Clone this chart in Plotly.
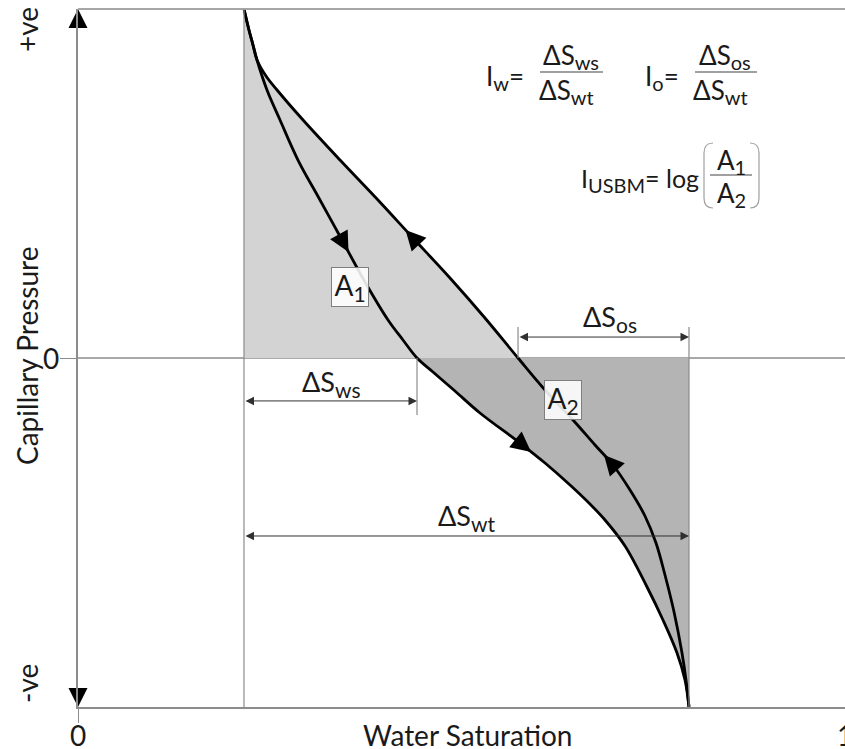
import math
import numpy as np
import plotly.graph_objects as go

# ---------------- data ----------------
# Imbibition curve (water saturation increasing, arrows pointing down)
sw_imb = [0.2164, 0.2229, 0.2282, 0.2334, 0.2464, 0.2634, 0.2868, 0.3155, 0.3442, 0.3742,
          0.4042, 0.4237, 0.4420, 0.4628, 0.4915, 0.5241, 0.5763, 0.6089, 0.6415, 0.6675,
          0.6871, 0.7132, 0.7419, 0.7627, 0.7810, 0.7914, 0.7966]
pc_imb = [1.000, 0.9398, 0.8968, 0.8539, 0.7679, 0.6819, 0.5673, 0.4527, 0.3381, 0.2178,
          0.1089, 0.0516, 0.000, -0.0401, -0.0946, -0.1576, -0.2436, -0.3009, -0.3639, -0.4183,
          -0.4642, -0.5387, -0.6562, -0.7507, -0.8453, -0.9226, -1.000]
# Drainage curve (water saturation decreasing, arrows pointing up)
sw_dra = [0.2164, 0.2229, 0.2282, 0.2334, 0.2451, 0.2595, 0.2934, 0.3416, 0.3911, 0.4355,
          0.4850, 0.5306, 0.5737, 0.6089, 0.6454, 0.6741, 0.6975, 0.7197, 0.7392, 0.7536,
          0.7653, 0.7771, 0.7875, 0.7927, 0.7966]
pc_dra = [1.000, 0.9398, 0.8968, 0.8539, 0.8080, 0.7679, 0.6819, 0.5673, 0.4527, 0.3467,
          0.2292, 0.1146, 0.000, -0.0917, -0.1777, -0.2493, -0.3066, -0.3782, -0.4527, -0.5301,
          -0.6218, -0.7278, -0.8453, -0.9226, -1.000]

SWI = 0.2164         # irreducible water saturation
SW_MAX = 0.7966      # 1 - Sor
SW_IMB0 = 0.4420     # imbibition curve at Pc = 0
SW_DRA0 = 0.5737     # drainage curve at Pc = 0

arrow_pc_imb = [0.304, -0.269]
arrow_pc_dra = [0.367, -0.278]

x_tickvals = [0, 1]
x_ticktext = ["0", "1"]
y_tickvals = [0]
y_ticktext = ["0"]

# ---------------- layout geometry ----------------
W, H = 845, 749
ML, MR, MT, MB = 78, 0, 9, 42
PW = W - ML - MR
PH = H - MT - MB
XR = [0, 1]
YR = [-1, 1]
SX = PW / (XR[1] - XR[0])
SY = PH / (YR[1] - YR[0])

FONT = "Lato"
TXT = "#1a1a1a"
GRAY = "#8c8c8c"
LIGHT = "#d3d3d3"
DARK = "#b4b4b4"


def PX(px):
    return (px - ML) / PW


def PY(py):
    return (H - MB - py) / PH


def sub(main, s, size):
    return f"{main}<sub><span style='font-size:{size}px'>{s}</span></sub>"


def sw_at(sw, pc, p):
    return float(np.interp(p, pc[::-1], sw[::-1]))


def arrow_angle(sw, pc, p, down):
    d = 0.03
    x1 = sw_at(sw, pc, p + d)
    x2 = sw_at(sw, pc, p - d)
    dx = (x2 - x1) * SX
    dy = (2 * d) * SY
    if not down:
        dx, dy = -dx, -dy
    return math.degrees(math.atan2(dx, -dy))


fig = go.Figure()

# light fill (above Pc = 0, left of drainage curve)
lx = [s for s, p in zip(sw_dra, pc_dra) if p >= 0] + [SWI]
ly = [p for p in pc_dra if p >= 0] + [0]
fig.add_trace(go.Scatter(x=lx, y=ly, mode="lines", fill="toself", fillcolor=LIGHT,
                         line=dict(width=0), hoverinfo="skip", showlegend=False))
# dark fill (below Pc = 0, right of imbibition curve)
dx_ = [s for s, p in zip(sw_imb, pc_imb) if p <= 0] + [SW_MAX]
dy_ = [p for p in pc_imb if p <= 0] + [0]
fig.add_trace(go.Scatter(x=dx_, y=dy_, mode="lines", fill="toself", fillcolor=DARK,
                         line=dict(width=0), hoverinfo="skip", showlegend=False))

# curves
for sw, pc in ((sw_imb, pc_imb), (sw_dra, pc_dra)):
    fig.add_trace(go.Scatter(x=sw, y=pc, mode="lines",
                             line=dict(color="black", width=2.8, shape="spline", smoothing=1.0),
                             hoverinfo="skip", showlegend=False))

# direction arrows on curves
ax_, ay_, aang = [], [], []
for p in arrow_pc_imb:
    ax_.append(sw_at(sw_imb, pc_imb, p)); ay_.append(p)
    aang.append(arrow_angle(sw_imb, pc_imb, p, True))
for p in arrow_pc_dra:
    ax_.append(sw_at(sw_dra, pc_dra, p)); ay_.append(p)
    aang.append(arrow_angle(sw_dra, pc_dra, p, False))
fig.add_trace(go.Scatter(x=ax_, y=ay_, mode="markers",
                         marker=dict(symbol="arrow-up", size=20, color="black", angle=aang,
                                     line=dict(width=0)),
                         hoverinfo="skip", showlegend=False, cliponaxis=False))

# y-axis end arrows
fig.add_trace(go.Scatter(x=[XR[0], XR[0]], y=[YR[1], YR[0]], mode="markers",
                         marker=dict(symbol=["arrow-up", "arrow-down"], size=19, color="black",
                                     line=dict(width=0)),
                         hoverinfo="skip", showlegend=False, cliponaxis=False))

shapes = []
# zero line
shapes.append(dict(type="line", xref="x", yref="y", x0=XR[0], x1=XR[1], y0=0, y1=0,
                   line=dict(color=GRAY, width=1.3), layer="below"))
# top border
shapes.append(dict(type="line", xref="paper", yref="paper", x0=0, x1=1, y0=1, y1=1,
                   line=dict(color="#a6a6a6", width=2)))
# vertical reference lines
DIM_OS, DIM_WS, DIM_WT = 0.060, -0.123, -0.510
shapes.append(dict(type="line", xref="x", yref="y", x0=SWI, x1=SWI, y0=YR[0], y1=YR[1],
                   line=dict(color=GRAY, width=1.2)))
shapes.append(dict(type="line", xref="x", yref="y", x0=SW_MAX, x1=SW_MAX, y0=YR[0], y1=0.089,
                   line=dict(color=GRAY, width=1.2)))
shapes.append(dict(type="line", xref="x", yref="y", x0=SW_DRA0, x1=SW_DRA0, y0=0, y1=0.089,
                   line=dict(color=GRAY, width=1.2)))
shapes.append(dict(type="line", xref="x", yref="y", x0=SW_IMB0, x1=SW_IMB0, y0=0, y1=-0.163,
                   line=dict(color=GRAY, width=1.2)))

# formula fraction lines
for x0, x1, yy in ((540, 603, 72), (695, 757, 72), (710, 752, 175)):
    shapes.append(dict(type="line", xref="paper", yref="paper", x0=PX(x0), x1=PX(x1),
                       y0=PY(yy), y1=PY(yy), line=dict(color="#a0a0a0", width=2)))
# parentheses
lp = (f"M {PX(713)},{PY(143)} Q {PX(704)},{PY(143)} {PX(704)},{PY(153)} "
      f"L {PX(704)},{PY(198)} Q {PX(704)},{PY(208)} {PX(713)},{PY(208)}")
rp = (f"M {PX(750)},{PY(143)} Q {PX(759)},{PY(143)} {PX(759)},{PY(153)} "
      f"L {PX(759)},{PY(198)} Q {PX(759)},{PY(208)} {PX(750)},{PY(208)}")
for pth in (lp, rp):
    shapes.append(dict(type="path", xref="paper", yref="paper", path=pth,
                       line=dict(color="#a0a0a0", width=1.2)))

ann = []
# dimension arrows
for x0, x1, yy in ((SW_DRA0, SW_MAX, DIM_OS), (SWI, SW_IMB0, DIM_WS), (SWI, SW_MAX, DIM_WT)):
    ann.append(dict(x=x1, y=yy, ax=x0, ay=yy, xref="x", yref="y", axref="x", ayref="y",
                    text="", showarrow=True, arrowhead=2, arrowside="end+start",
                    arrowsize=1.7, arrowwidth=1, arrowcolor="#303030",
                    standoff=0, startstandoff=0))

LF, LS = 27, 21
ann.append(dict(x=(SW_DRA0 + SW_MAX) / 2 + 0.008, y=0.112, xref="x", yref="y", showarrow=False,
                text=sub("ΔS", "os", LS), font=dict(size=LF, color=TXT, family=FONT)))
ann.append(dict(x=(SWI + SW_IMB0) / 2, y=-0.072, xref="x", yref="y", showarrow=False,
                text=sub("ΔS", "ws", LS), font=dict(size=LF, color=TXT, family=FONT)))
ann.append(dict(x=(SWI + SW_MAX) / 2, y=-0.458, xref="x", yref="y", showarrow=False,
                text=sub("ΔS", "wt", LS), font=dict(size=LF, color=TXT, family=FONT)))

# A1 / A2 boxes
for t, x, y in ((sub("A", "1", 21), 0.3546, 0.2034), (sub("A", "2", 21), 0.6323, -0.1203)):
    ann.append(dict(x=x, y=y, xref="x", yref="y", showarrow=False, text=t,
                    font=dict(size=28, color=TXT, family=FONT),
                    bgcolor="rgba(255,255,255,0.88)", bordercolor="#7f7f7f", borderwidth=1,
                    width=36, height=38, borderpad=0))

# formulas
FF, FS = 26, 20


def ptext(t, px, py, size=FF, angle=0):
    ann.append(dict(x=PX(px), y=PY(py), xref="paper", yref="paper", showarrow=False,
                    text=t, xanchor="center", yanchor="middle", textangle=angle,
                    font=dict(size=size, color=TXT, family=FONT)))


ptext(sub("I", "w", FS) + "=", 505, 77)
ptext(sub("ΔS", "ws", FS), 571, 57)
ptext(sub("ΔS", "wt", FS), 566, 92)
ptext(sub("I", "o", FS) + "=", 662, 77)
ptext(sub("ΔS", "os", FS), 725, 57)
ptext(sub("ΔS", "wt", FS), 720, 92)
ptext(sub("I", "USBM", FS) + "= log", 640, 180, size=25)
ptext(sub("A", "1", FS), 731, 161)
ptext(sub("A", "2", FS), 731, 194)

# axis texts
AF = 28
ptext("Water Saturation", 468, 735, AF)
ptext("Capillary Pressure", 27, 356, AF, -90)
ptext("+ve", 27, 30, AF, -90)
ptext("-ve", 27, 684, AF, -90)
# tick labels
for v, t in zip(x_tickvals, x_ticktext):
    ann.append(dict(x=v, y=PY(735), xref="x", yref="paper", showarrow=False, text=t,
                    xanchor="center", yanchor="middle",
                    font=dict(size=AF, color=TXT, family=FONT)))
for v, t in zip(y_tickvals, y_ticktext):
    ann.append(dict(x=PX(51), y=v, xref="paper", yref="y", showarrow=False, text=t,
                    xanchor="center", yanchor="middle",
                    font=dict(size=AF, color=TXT, family=FONT)))

fig.update_layout(
    width=W, height=H,
    margin=dict(l=ML, r=MR, t=MT, b=MB, pad=0),
    paper_bgcolor="white", plot_bgcolor="white",
    shapes=shapes, annotations=ann,
    xaxis=dict(range=XR, showgrid=False, zeroline=False, showline=True, linecolor=GRAY,
               linewidth=1.5, ticks="outside", ticklen=14, tickcolor=GRAY, tickwidth=1.3,
               tickvals=x_tickvals, showticklabels=False, automargin=False),
    yaxis=dict(range=YR, showgrid=False, zeroline=False, showline=True, linecolor=GRAY,
               linewidth=1.5, ticks="outside", ticklen=16, tickcolor=GRAY, tickwidth=1.3,
               tickvals=y_tickvals, showticklabels=False, automargin=False),
    showlegend=False,
)

fig.write_html("out.html")
